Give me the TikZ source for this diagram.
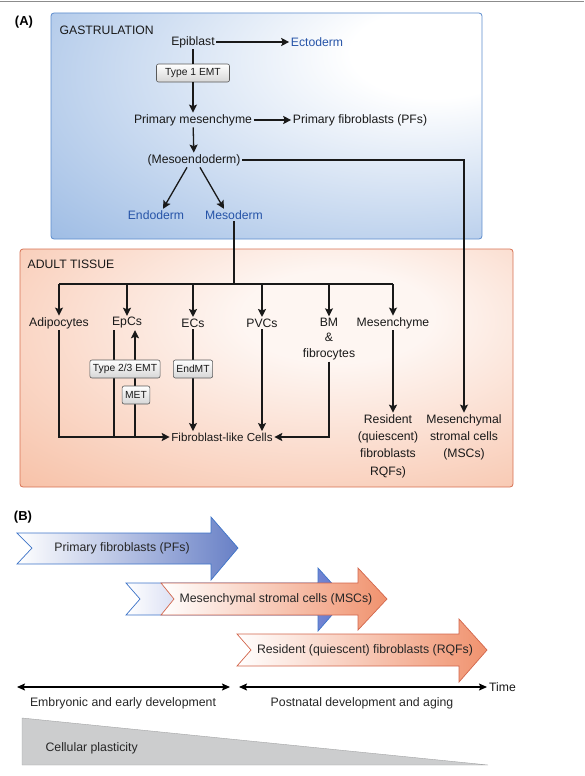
\documentclass[tikz,border=0pt]{standalone}
\usepackage{fontspec}
\setmainfont{Liberation Sans}
\usetikzlibrary{arrows.meta}
\definecolor{bbl}{RGB}{146,180,225}
\definecolor{bborder}{RGB}{92,140,205}
\definecolor{obl}{RGB}{245,176,143}
\definecolor{oborder}{RGB}{214,112,82}
\definecolor{bluet}{RGB}{38,84,168}
\definecolor{txtc}{RGB}{25,25,25}
\definecolor{pfblue}{RGB}{104,128,198}
\definecolor{pfborder}{RGB}{62,116,200}
\definecolor{orf}{RGB}{240,146,110}
\definecolor{orborder}{RGB}{210,102,76}
\definecolor{plast}{RGB}{204,205,206}
\pgfdeclareradialshading{blueglow}{\pgfpoint{22bp}{18bp}}{color(0bp)=(white); color(10bp)=(white); color(55bp)=(bbl); color(100bp)=(bbl)}
\pgfdeclareradialshading{orangeglow}{\pgfpoint{8bp}{12bp}}{color(0bp)=(white!88!obl); color(10bp)=(white!88!obl); color(55bp)=(obl); color(100bp)=(obl)}
\tikzset{
  txt/.style={font=\fontsize{12.2}{16}\selectfont, text=txtc, inner sep=1.5pt, align=center},
  bluetxt/.style={txt, text=bluet},
  procbox/.style={draw=black!65, line width=0.6pt, rounded corners=2pt, top color=white, bottom color=black!16,
     font=\fontsize{10.3}{12}\selectfont, text=txtc, inner xsep=3pt, inner ysep=1pt, minimum height=18pt},
  conn/.style={line width=1.3pt, draw=txtc},
  arr/.style={conn, -{Stealth[length=8pt,width=8pt,inset=1.5pt]}},
  dblarr/.style={line width=1.2pt, draw=black, {Stealth[length=8pt,width=7pt,inset=1.5pt]}-{Stealth[length=8pt,width=7pt,inset=1.5pt]}},
  barrowtxt/.style={font=\fontsize{12.3}{14}\selectfont, text=black!85},
  head/.style={font=\bfseries\fontsize{13}{15}\selectfont, text=black}
}
\begin{document}
\begin{tikzpicture}[x=1pt,y=-1pt]
\useasboundingbox (0,0) rectangle (584,776);
\draw[black!45, line width=1pt] (0,2) -- (584,2);
% boxes
\path[shading=blueglow, draw=bborder, line width=0.8pt, rounded corners=3pt] (51,13) rectangle (482,239);
\path[shading=orangeglow, draw=oborder, line width=0.8pt, rounded corners=3pt] (20,249) rectangle (513,487);
\node[head] (A) at (24,22) {(A)};
\node[txt, anchor=west] (gast) at (58,30) {GASTRULATION};
\node[txt, anchor=west] (adult) at (26,264) {ADULT TISSUE};
% gastrulation nodes
\node[txt] (epi) at (193,42) {Epiblast};
\node[bluetxt] (ecto) at (317,42) {Ectoderm};
\node[procbox, minimum width=73pt] (t1) at (193,73) {Type 1 EMT};
\node[txt] (pm) at (193,120) {Primary mesenchyme};
\node[txt] (pf) at (360,120) {Primary fibroblasts (PFs)};
\node[txt] (meso) at (194,160) {(Mesoendoderm)};
\node[bluetxt] (endo) at (156,215) {Endoderm};
\node[bluetxt] (mesod) at (234,215) {Mesoderm};
\draw[arr] (epi) -- (ecto);
\draw[conn] (epi) -- (t1);
\draw[arr] (t1) -- (pm);
\draw[arr] (pm) -- (pf);
\draw[arr] (pm) -- (meso);
\draw[arr] ([xshift=-7pt]meso.south) -- ([xshift=7pt]endo.north);
\draw[arr] ([xshift=6pt]meso.south) -- ([xshift=-10pt]mesod.north);
% adult tissue nodes
\node[txt] (adip) at (59,323) {Adipocytes};
\node[txt] (epc) at (127,323) {EpCs};
\node[txt] (ec) at (193,323) {ECs};
\node[txt] (pvc) at (262,323) {PVCs};
\node[txt, font=\fontsize{12.2}{15.5}\selectfont] (bm) at (329,339) {BM\\\&\\fibrocytes};
\node[txt] (mesen) at (393,323) {Mesenchyme};
\node[txt, font=\fontsize{12.2}{17.3}\selectfont] (rqf) at (388,446) {Resident\\(quiescent)\\fibroblasts\\RQFs)};
\node[txt, font=\fontsize{12.2}{17}\selectfont] (msc) at (464,437) {Mesenchymal\\stromal cells\\(MSCs)};
\node[txt, font=\fontsize{11.6}{14}\selectfont] (flc) at (222,437) {Fibroblast-like Cells};
\coordinate (fork) at (mesod.south |- 0,284);
\draw[conn] (mesod.south) -- (fork);
\draw[conn] (adip.north |- fork) -- (mesen.north |- fork);
\draw[arr] (adip.north |- fork) -- (adip.north);
\draw[arr] (epc.north |- fork) -- (epc.north);
\draw[arr] (ec.north |- fork) -- (ec.north);
\draw[arr] (pvc.north |- fork) -- (pvc.north);
\draw[arr] (bm.north |- fork) -- (bm.north);
\draw[arr] (mesen.north |- fork) -- (mesen.north);
\draw[arr] (meso.east) -| (msc.north);
\draw[arr] (mesen.south) -- (mesen.south |- rqf.north);
\draw[arr] (adip.south) |- (flc.west);
\draw[conn] ([xshift=-13pt]epc.south) -- ([xshift=-13pt]epc.south |- flc.west);
\draw[arr] ([xshift=8pt]epc.south |- flc.west) -- ([xshift=8pt]epc.south);
\draw[arr] (ec.south) -- (ec.south |- flc.north);
\draw[arr] (pvc.south) -- (pvc.south |- flc.north);
\draw[arr] (bm.south) |- (flc.east);
\node[procbox] (t23) at (125,369) {Type 2/3 EMT};
\node[procbox] (met) at (136,395) {MET};
\node[procbox] (endmt) at (193,369) {EndMT};
% part B
\node[head] (B) at (23,517) {(B)};
\path[left color=white, right color=pfblue, draw=pfborder, line width=0.7pt, line join=miter]
  (17,533) -- (211,533) -- (211,517) -- (238,548) -- (211,580) -- (211,564) -- (17,564) -- (32,548) -- cycle;
\node[barrowtxt] (pfa) at (122,548) {Primary fibroblasts (PFs)};
\path[left color=white, right color=pfblue!90!blue, draw=pfborder, line width=0.7pt, line join=miter]
  (126,583) -- (318,583) -- (318,568) -- (346,599) -- (318,631) -- (318,615) -- (126,615) -- (140,599) -- cycle;
\path[left color=white, right color=orf, draw=orborder, line width=0.7pt, line join=miter]
  (161,583) -- (358,583) -- (358,568) -- (387,599) -- (358,630) -- (358,615) -- (161,615) -- (174,599) -- cycle;
\node[barrowtxt] (msca) at (276,599) {Mesenchymal stromal cells (MSCs)};
\path[left color=white, right color=orf, draw=orborder, line width=0.7pt, line join=miter]
  (237,634) -- (459,634) -- (459,619) -- (487,650) -- (459,682) -- (459,666) -- (237,666) -- (251,650) -- cycle;
\node[barrowtxt] (rqfa) at (365,650) {Resident (quiescent) fibroblasts (RQFs)};
% timeline
\coordinate (ta) at (17,687);
\coordinate (tb) at (230,687);
\coordinate (tc) at (239,687);
\node[txt, anchor=west, inner sep=0pt] (time) at (489,687) {Time};
\draw[dblarr] (ta) -- (tb);
\draw[dblarr] (tc) -- ([xshift=-2pt]time.west);
\node[barrowtxt] (emb) at (123,703) {Embryonic and early development};
\node[barrowtxt] (post) at (362,703) {Postnatal development and aging};
% plasticity
\path[fill=plast, draw=plast!80!black, line width=0.4pt] (22,718) -- (488,765) -- (22,765) -- cycle;
\node[barrowtxt, anchor=west] (plas) at (42,748) {Cellular plasticity};
\end{tikzpicture}
\end{document}
